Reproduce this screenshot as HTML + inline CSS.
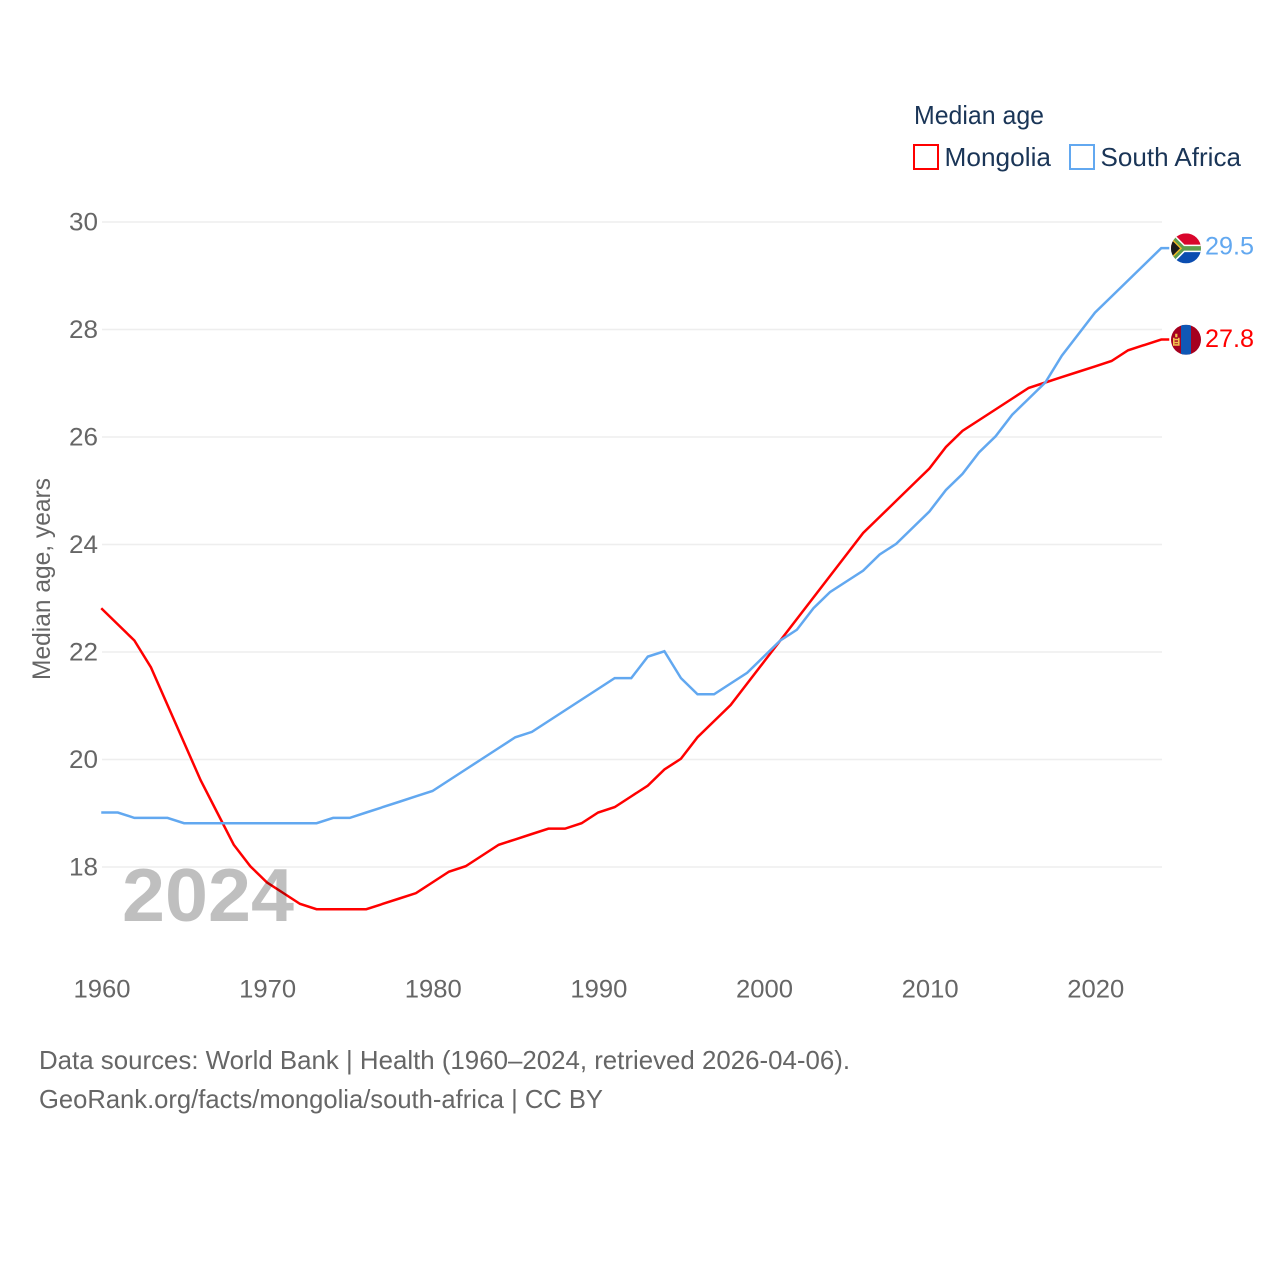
<!DOCTYPE html>
<html lang="en">
<head>
<meta charset="utf-8">
<title>Median age: Mongolia and South Africa</title>
<style>
html,body{margin:0;padding:0;background:#fff;width:1280px;height:1280px;overflow:hidden}
svg{display:block}
text{font-family:"Liberation Sans",sans-serif}
</style>
</head>
<body>
<svg id="chart" xmlns="http://www.w3.org/2000/svg" width="1280" height="1280" viewBox="0 0 1280 1280">
  <defs>
    <clipPath id="clip-sa"><circle cx="0" cy="0" r="15"></circle></clipPath>
    <clipPath id="clip-mn"><circle cx="0" cy="0" r="15"></circle></clipPath>
  </defs>

  <g id="grid"></g>
  <g id="yticks"></g>
  <g id="xticks"></g>

  <text transform="translate(50,680) rotate(-90)" font-size="25" fill="#666" textLength="202" lengthAdjust="spacingAndGlyphs">Median age, years</text>

  <g id="series" transform="translate(-0.75,-0.75)"></g>

  <text x="122" y="921" font-size="75" font-weight="bold" fill="#000" fill-opacity="0.25" textLength="172" lengthAdjust="spacingAndGlyphs">2024</text>

  <g>
    <text x="914" y="124" font-size="26" fill="#1a3557" textLength="130" lengthAdjust="spacingAndGlyphs">Median age</text>
    <g>
      <rect x="914" y="145" width="24" height="24" fill="#fff" stroke="#ff0000" stroke-width="2"></rect>
      <text x="944.5" y="166" font-size="26" fill="#1a3557" textLength="106.5" lengthAdjust="spacingAndGlyphs">Mongolia</text>
    </g>
    <g>
      <rect x="1070" y="145" width="24" height="24" fill="#fff" stroke="#62a8f0" stroke-width="2"></rect>
      <text x="1100.5" y="166" font-size="26" fill="#1a3557" textLength="140.5" lengthAdjust="spacingAndGlyphs">South Africa</text>
    </g>
  </g>

  <g id="flag-sa">
    <g clip-path="url(#clip-sa)">
      <rect x="-15" y="-15" width="30" height="15" fill="#d9062c"></rect>
      <rect x="-15" y="0" width="30" height="15" fill="#0b4db0"></rect>
      <path d="M-18,-15 L-3,0 L16,0 M-18,15 L-3,0" fill="none" stroke="#fff" stroke-width="7.5"></path>
      <path d="M-18,-15 L-3,0 L16,0 M-18,15 L-3,0" fill="none" stroke="#5f9e4c" stroke-width="4.5"></path>
      <path d="M-16,-11 L-5,0 L-16,11 Z" fill="#1b1b1b" stroke="#f0b928" stroke-width="1.5"></path>
    </g>
  </g>

  <g id="flag-mn">
    <g clip-path="url(#clip-mn)">
      <rect x="-15" y="-15" width="30" height="30" fill="#a5001f"></rect>
      <rect x="-5" y="-15" width="10" height="30" fill="#0f57b5"></rect>
      <rect x="-13" y="-2" width="1.6" height="8" fill="#f2c14e"></rect>
      <rect x="-8" y="-2" width="1.6" height="8" fill="#f2c14e"></rect>
      <rect x="-11.4" y="-1" width="3.4" height="1.6" fill="#f2c14e"></rect>
      <rect x="-11.4" y="2" width="3.4" height="1.6" fill="#f2c14e"></rect>
      <rect x="-11.4" y="4.4" width="3.4" height="1.6" fill="#f2c14e"></rect>
      <rect x="-10.8" y="-6" width="2.2" height="3.5" fill="#f2c14e"></rect>
    </g>
  </g>

  <g id="end-labels"></g>

  <g>
    <text x="39" y="1069" font-size="26" fill="#666" textLength="811" lengthAdjust="spacingAndGlyphs">Data sources: World Bank | Health (1960–2024, retrieved 2026-04-06).</text>
    <text x="39" y="1108" font-size="26" fill="#666" textLength="564" lengthAdjust="spacingAndGlyphs">GeoRank.org/facts/mongolia/south-africa | CC BY</text>
  </g>
</svg>
<script>
const startYear = 1960;
const endYear = 2024;
const yTickLabels = [18, 20, 22, 24, 26, 28, 30];
const xTickLabels = [1960, 1970, 1980, 1990, 2000, 2010, 2020];
const mongoliaValues = [22.8,22.5,22.2,21.7,21.0,20.3,19.6,19.0,18.4,18.0,17.7,17.5,17.3,17.2,17.2,17.2,17.2,17.3,17.4,17.5,17.7,17.9,18.0,18.2,18.4,18.5,18.6,18.7,18.7,18.8,19.0,19.1,19.3,19.5,19.8,20.0,20.4,20.7,21.0,21.4,21.8,22.2,22.6,23.0,23.4,23.8,24.2,24.5,24.8,25.1,25.4,25.8,26.1,26.3,26.5,26.7,26.9,27.0,27.1,27.2,27.3,27.4,27.6,27.7,27.8];
const southAfricaValues = [19.0,19.0,18.9,18.9,18.9,18.8,18.8,18.8,18.8,18.8,18.8,18.8,18.8,18.8,18.9,18.9,19.0,19.1,19.2,19.3,19.4,19.6,19.8,20.0,20.2,20.4,20.5,20.7,20.9,21.1,21.3,21.5,21.5,21.9,22.0,21.5,21.2,21.2,21.4,21.6,21.9,22.2,22.4,22.8,23.1,23.3,23.5,23.8,24.0,24.3,24.6,25.0,25.3,25.7,26.0,26.4,26.7,27.0,27.5,27.9,28.3,28.6,28.9,29.2,29.5];

const NS = 'http://www.w3.org/2000/svg';
const plotLeft = 102, plotRight = 1162, yAt30 = 222, yAt18 = 867;
function xScale(year){ return plotLeft + (year - startYear) * (plotRight - plotLeft) / (endYear - startYear); }
function yScale(v){ return yAt30 + (30 - v) * (yAt18 - yAt30) / 12; }
function make(tag, parent){ const el = document.createElementNS(NS, tag); parent.appendChild(el); return el; }

const grid = document.getElementById('grid');
const yticks = document.getElementById('yticks');
yTickLabels.forEach(function(v){
  const line = make('line', grid);
  
  
  line.setAttribute('x1', plotLeft);
  line.setAttribute('x2', plotRight);
  line.setAttribute('y1', yScale(v));
  line.setAttribute('y2', yScale(v));
  line.setAttribute('stroke', '#eeeeee');
  line.setAttribute('stroke-width', '1.5');
  const t = make('text', yticks);
  
  
  t.setAttribute('x', 69);
  t.setAttribute('y', yScale(v) + 8.5);
  t.setAttribute('font-size', '25');
  t.setAttribute('fill', '#666');
  t.setAttribute('textLength', '29');
  t.setAttribute('lengthAdjust', 'spacingAndGlyphs');
  t.textContent = v;
});

const xticks = document.getElementById('xticks');
xTickLabels.forEach(function(y){
  const t = make('text', xticks);
  
  
  t.setAttribute('x', xScale(y) - 28.5);
  t.setAttribute('y', 997.5);
  t.setAttribute('font-size', '25');
  t.setAttribute('fill', '#666');
  t.setAttribute('textLength', '57');
  t.setAttribute('lengthAdjust', 'spacingAndGlyphs');
  t.textContent = y;
});

function linePoints(values){
  const pts = values.map(function(v, i){ return xScale(startYear + i).toFixed(2) + ',' + yScale(v).toFixed(2); });
  pts.push((plotRight + 8) + ',' + yScale(values[values.length - 1]).toFixed(2));
  return pts.join(' ');
}

const series = document.getElementById('series');
const mongoliaLine = make('polyline', series);


mongoliaLine.setAttribute('points', linePoints(mongoliaValues));
mongoliaLine.setAttribute('fill', 'none');
mongoliaLine.setAttribute('stroke', '#ff0000');
mongoliaLine.setAttribute('stroke-width', '2.5');

const southAfricaLine = make('polyline', series);


southAfricaLine.setAttribute('points', linePoints(southAfricaValues));
southAfricaLine.setAttribute('fill', 'none');
southAfricaLine.setAttribute('stroke', '#62a8f0');
southAfricaLine.setAttribute('stroke-width', '2.5');

const lastSA = southAfricaValues[southAfricaValues.length - 1];
const lastMN = mongoliaValues[mongoliaValues.length - 1];
document.getElementById('flag-sa').setAttribute('transform', 'translate(1186,' + (yScale(lastSA) - 0.5) + ')');
document.getElementById('flag-mn').setAttribute('transform', 'translate(1186,' + (yScale(lastMN) - 0.5) + ')');

const endLabels = document.getElementById('end-labels');
const saLabel = make('text', endLabels);


saLabel.setAttribute('x', 1205);
saLabel.setAttribute('y', yScale(lastSA) + 5.5);
saLabel.setAttribute('font-size', '25');
saLabel.setAttribute('fill', '#62a8f0');
saLabel.setAttribute('textLength', '49');
saLabel.setAttribute('lengthAdjust', 'spacingAndGlyphs');
saLabel.textContent = lastSA.toFixed(1);

const mnLabel = make('text', endLabels);


mnLabel.setAttribute('x', 1205);
mnLabel.setAttribute('y', yScale(lastMN) + 6.5);
mnLabel.setAttribute('font-size', '25');
mnLabel.setAttribute('fill', '#ff0000');
mnLabel.setAttribute('textLength', '49');
mnLabel.setAttribute('lengthAdjust', 'spacingAndGlyphs');
mnLabel.textContent = lastMN.toFixed(1);
</script>
</body>
</html>
